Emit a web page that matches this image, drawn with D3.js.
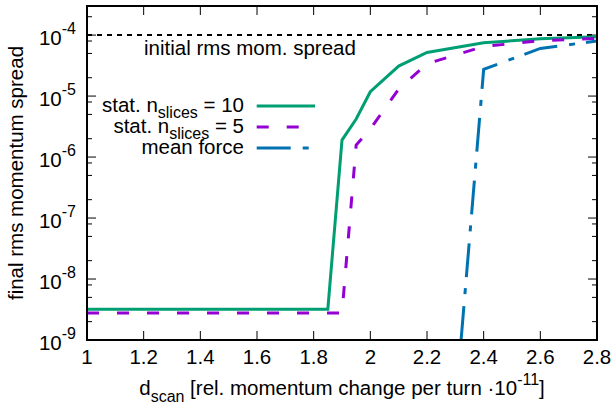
<!DOCTYPE html>
<html><head><meta charset="utf-8">
<script src="https://cdn.jsdelivr.net/npm/d3@7"></script>
<style>
body{margin:0;background:#fff}
svg text{font-family:"Liberation Sans",Arial,Helvetica,sans-serif;fill:#000}
</style>
</head><body><svg id="c" width="615" height="406"></svg>
<script>
// ---- data ----
const xTicks = [1, 1.2, 1.4, 1.6, 1.8, 2, 2.2, 2.4, 2.6, 2.8];
const xTickLabels = ["1", "1.2", "1.4", "1.6", "1.8", "2", "2.2", "2.4", "2.6", "2.8"];
const yExponents = [-9, -8, -7, -6, -5, -4];
const yMinorMantissas = [2, 5, 8];

const stat10X = [1.0, 1.2, 1.4, 1.6, 1.8, 1.85, 1.9, 1.95, 2.0, 2.1, 2.2, 2.4, 2.6, 2.8];
const stat10Y = [3.2e-9, 3.2e-9, 3.2e-9, 3.2e-9, 3.2e-9, 3.2e-9, 1.9e-6, 4.2e-6, 1.18e-5, 3.1e-5, 5.2e-5, 7.5e-5, 8.7e-5, 9.4e-5];

const stat5X = [1.0, 1.2, 1.4, 1.6, 1.8, 1.9, 1.95, 2.0, 2.1, 2.2, 2.4, 2.6, 2.8];
const stat5Y = [2.77e-9, 2.77e-9, 2.77e-9, 2.77e-9, 2.77e-9, 2.77e-9, 1.57e-6, 2.9e-6, 1.3e-5, 3.4e-5, 6.5e-5, 8.1e-5, 8.8e-5];

const meanForceX = [2.3, 2.4, 2.6, 2.8];
const meanForceY = [7.4e-11, 2.74e-5, 6.05e-5, 8.0e-5];

const initialSpread = 1e-4;

const seriesNames = ["stat. n|slices| = 10", "stat. n|slices| = 5", "mean force"];
const seriesColors = ["#009e73", "#9400d3", "#0072b2"];

// ---- layout ----
const L = 87, R = 597, T = 6, B = 340;
const FS = 20.5;
const svg = d3.select("#c");
const x = d3.scaleLinear().domain([1, 2.8]).range([L, R]);
const y = d3.scaleLog().domain([1e-9, 3e-4]).range([B, T]);

// ticks
const tickG = svg.append("g").attr("stroke", "#000").attr("stroke-width", 1);
xTicks.forEach(v => {
  const px = x(v);
  tickG.append("line").attr("x1", px).attr("x2", px).attr("y1", B).attr("y2", B - 9);
  tickG.append("line").attr("x1", px).attr("x2", px).attr("y1", T).attr("y2", T + 9);
});
yExponents.forEach(e => {
  const py = y(Math.pow(10, e));
  tickG.append("line").attr("x1", L).attr("x2", L + 9).attr("y1", py).attr("y2", py);
  tickG.append("line").attr("x1", R).attr("x2", R - 9).attr("y1", py).attr("y2", py);
  yMinorMantissas.forEach(m => {
    const v = m * Math.pow(10, e);
    if (v <= y.domain()[1]) {
      const pm = y(v);
      tickG.append("line").attr("x1", L).attr("x2", L + 5).attr("y1", pm).attr("y2", pm);
      tickG.append("line").attr("x1", R).attr("x2", R - 5).attr("y1", pm).attr("y2", pm);
    }
  });
});

// tick labels
xTicks.forEach((v, i) => {
  svg.append("text").attr("x", x(v)).attr("y", B + 24).attr("text-anchor", "middle")
    .attr("font-size", FS).text(xTickLabels[i]);
});
yExponents.forEach(e => {
  const t = svg.append("text").attr("x", 76).attr("y", y(Math.pow(10, e)) + 10)
    .attr("text-anchor", "end").attr("font-size", FS);
  t.append("tspan").text("10");
  t.append("tspan").attr("dy", -11).attr("font-size", 16).text(String(e));
});

// axis labels
const xl = svg.append("text").attr("x", (L + R) / 2).attr("y", 395)
  .attr("text-anchor", "middle").attr("font-size", FS);
xl.append("tspan").text("d");
xl.append("tspan").attr("dy", 7).attr("font-size", 16).text("scan");
xl.append("tspan").attr("dy", -7).text(" [rel. momentum change per turn ·10");
xl.append("tspan").attr("dy", -10).attr("font-size", 16).text("-11");
xl.append("tspan").attr("dy", 10).text("]");

svg.append("text").attr("transform", `translate(23,${(T + B) / 2}) rotate(-90)`)
  .attr("text-anchor", "middle").attr("font-size", FS).text("final rms momentum spread");

// clip
svg.append("clipPath").attr("id", "plotclip").append("rect")
  .attr("x", L).attr("y", T).attr("width", R - L).attr("height", B - T);

// initial spread dashed line
svg.append("line").attr("x1", L).attr("x2", R)
  .attr("y1", y(initialSpread)).attr("y2", y(initialSpread))
  .attr("stroke", "#000").attr("stroke-width", 2).attr("stroke-dasharray", "5,5");
svg.append("text").attr("x", 144).attr("y", 55).attr("font-size", FS).text("initial rms mom. spread");

// data lines
const line = d3.line().x(d => x(d[0])).y(d => y(d[1]));
const dg = svg.append("g").attr("clip-path", "url(#plotclip)").attr("fill", "none");
const dashes = [null, "12,18", "34,12,6,11"];
const data = [
  stat10X.map((v, i) => [v, stat10Y[i]]),
  stat5X.map((v, i) => [v, stat5Y[i]]),
  meanForceX.map((v, i) => [v, meanForceY[i]])
];
// blue line: dash pattern begins where the line enters the plot (bottom edge)
const p0 = [x(meanForceX[0]), y(meanForceY[0])], p1 = [x(meanForceX[1]), y(meanForceY[1])];
const segLen = Math.hypot(p1[0] - p0[0], p1[1] - p0[1]);
const entry = (p0[1] - B) / (p0[1] - p1[1]) * segLen;
const offsets = [0, 0, -entry];
data.forEach((d, i) => {
  const p = dg.append("path").attr("d", line(d)).attr("stroke", seriesColors[i])
    .attr("stroke-width", 3).attr("stroke-linejoin", "miter");
  if (dashes[i]) p.attr("stroke-dasharray", dashes[i]).attr("stroke-dashoffset", offsets[i]);
});

// legend
const legBase = [111.5, 132.5, 153.5];
seriesNames.forEach((name, i) => {
  const t = svg.append("text").attr("x", 244).attr("y", legBase[i])
    .attr("text-anchor", "end").attr("font-size", FS);
  const parts = name.split("|");
  if (parts.length === 3) {
    t.append("tspan").text(parts[0]);
    t.append("tspan").attr("dy", 6).attr("font-size", 16).text(parts[1]);
    t.append("tspan").attr("dy", -6).text(parts[2]);
  } else t.text(name);
  const ls = svg.append("line").attr("x1", 256.7).attr("x2", 315)
    .attr("y1", legBase[i] - 5.5).attr("y2", legBase[i] - 5.5)
    .attr("stroke", seriesColors[i]).attr("stroke-width", 3);
  if (dashes[i]) ls.attr("stroke-dasharray", dashes[i]);
});

// frame
svg.append("rect").attr("x", L).attr("y", T).attr("width", R - L).attr("height", B - T)
  .attr("fill", "none").attr("stroke", "#000").attr("stroke-width", 2);
</script>
</body></html>
